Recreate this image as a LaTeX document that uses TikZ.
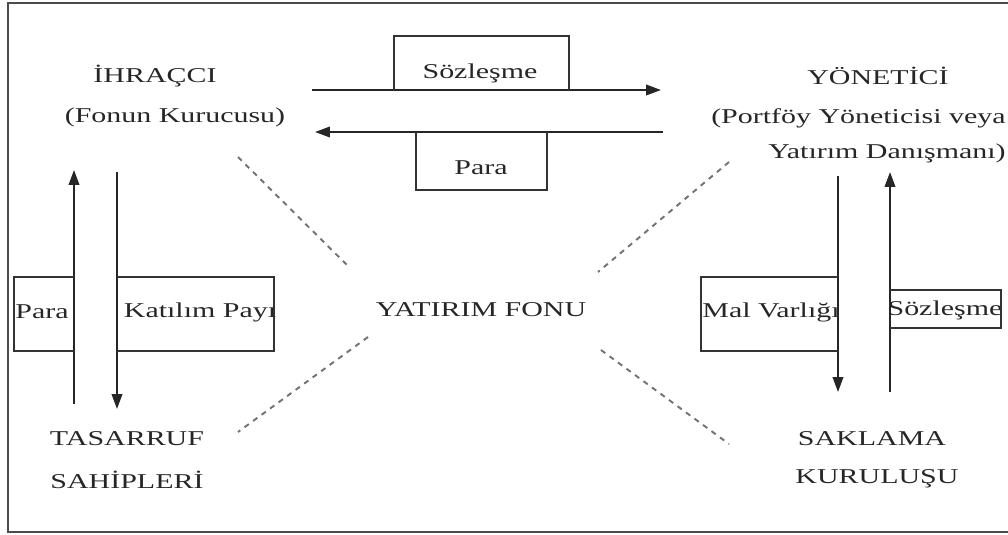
\documentclass[tikz,border=0pt]{standalone}
\usepackage{fontspec}
\setmainfont[FakeStretch=1.42]{Liberation Serif}
\usetikzlibrary{arrows.meta}

\begin{document}
\begin{tikzpicture}[x=0.2mm,y=-0.2mm,
    lbl/.style={font=\fontsize{12}{14}\selectfont,text=black!85,inner sep=0pt},
    flow/.style={line width=1.1pt,draw=black!85,-{Triangle[length=8.5pt,width=6pt]}},
    box/.style={line width=1.1pt,draw=black!80},
    frm/.style={line width=1pt,draw=black!70},
    dsh/.style={line width=1.1pt,draw=black!55,dash pattern=on 3pt off 3pt}]
            \useasboundingbox (0,0) rectangle (1008,534);
            \draw[frm] (1015,3) -- (8,3) -- (8,532) -- (1015,532);
            % parties
            \node[lbl] (ihr) at (155,76) {İHRAÇCI};
            \node[lbl] (kur) at (175,117) {(Fonun Kurucusu)};
            \node[lbl] (yon) at (878,76) {YÖNETİCİ};
            \node[lbl,anchor=east] (por) at (1006,118) {(Portföy Yöneticisi veya};
            \node[lbl,anchor=east] (dan) at (1006,153) {Yatırım Danışmanı)};
            \node[lbl] (fon) at (481,310) {YATIRIM FONU};
            \node[lbl] (tas) at (127,439) {TASARRUF};
            \node[lbl] (sah) at (127,480) {SAHİPLERİ};
            \node[lbl] (sak) at (872,439) {SAKLAMA};
            \node[lbl] (kul) at (877,479) {KURULUŞU};
            % flow labels
            \node[lbl] (szl1) at (480,73) {Sözleşme};
            \node[lbl] (par1) at (481,168) {Para};
            \node[lbl] (par2) at (42,312) {Para};
            \node[lbl] (kat) at (200,312) {Katılım Payı};
            \node[lbl] (mal) at (771,312) {Mal Varlığı};
            \node[lbl] (szl2) at (945,310) {Sözleşme};
            % arrow ends
            \coordinate (ts) at (312,90);  \coordinate (te) at (661,90);
            \coordinate (bs) at (663,132); \coordinate (be) at (315,132);
            \coordinate (lu) at (74,404);  \coordinate (lut) at (74,170);
            \coordinate (ld) at (117,172); \coordinate (ldt) at (117,409);
            \coordinate (rd) at (838,176); \coordinate (rdt) at (838,392);
            \coordinate (ru) at (890,392); \coordinate (rut) at (890,172);
            \draw[flow] (ts) to (te);
            \draw[flow] (bs) to (be);
            \draw[flow] (lu) to (lut);
            \draw[flow] (ld) to (ldt);
            \draw[flow] (rd) to (rdt);
            \draw[flow] (ru) to (rut);
            % boxes
            \draw[box] (394,90) |- (569,36) -- (569,90);
            \draw[box] (416,132) |- (547,190) -- (547,132);
            \draw[box] (74,277) -| (14,351) -- (74,351);
            \draw[box] (117,277) -| (274,351) -- (117,351);
            \draw[box] (838,277) -| (701,351) -- (838,351);
            \draw[box] (890,290) -| (1001,328) -- (890,328);
            % dashed links
            \coordinate (d1a) at (238,157); \coordinate (d1b) at (350,268);
            \coordinate (d2a) at (368,337); \coordinate (d2b) at (238,432);
            \coordinate (d3a) at (729,162); \coordinate (d3b) at (598,272);
            \coordinate (d4a) at (601,350); \coordinate (d4b) at (729,444);
            \draw[dsh] (d1a) to (d1b);
            \draw[dsh] (d2a) to (d2b);
            \draw[dsh] (d3a) to (d3b);
            \draw[dsh] (d4a) to (d4b);
          \end{tikzpicture}
\end{document}
